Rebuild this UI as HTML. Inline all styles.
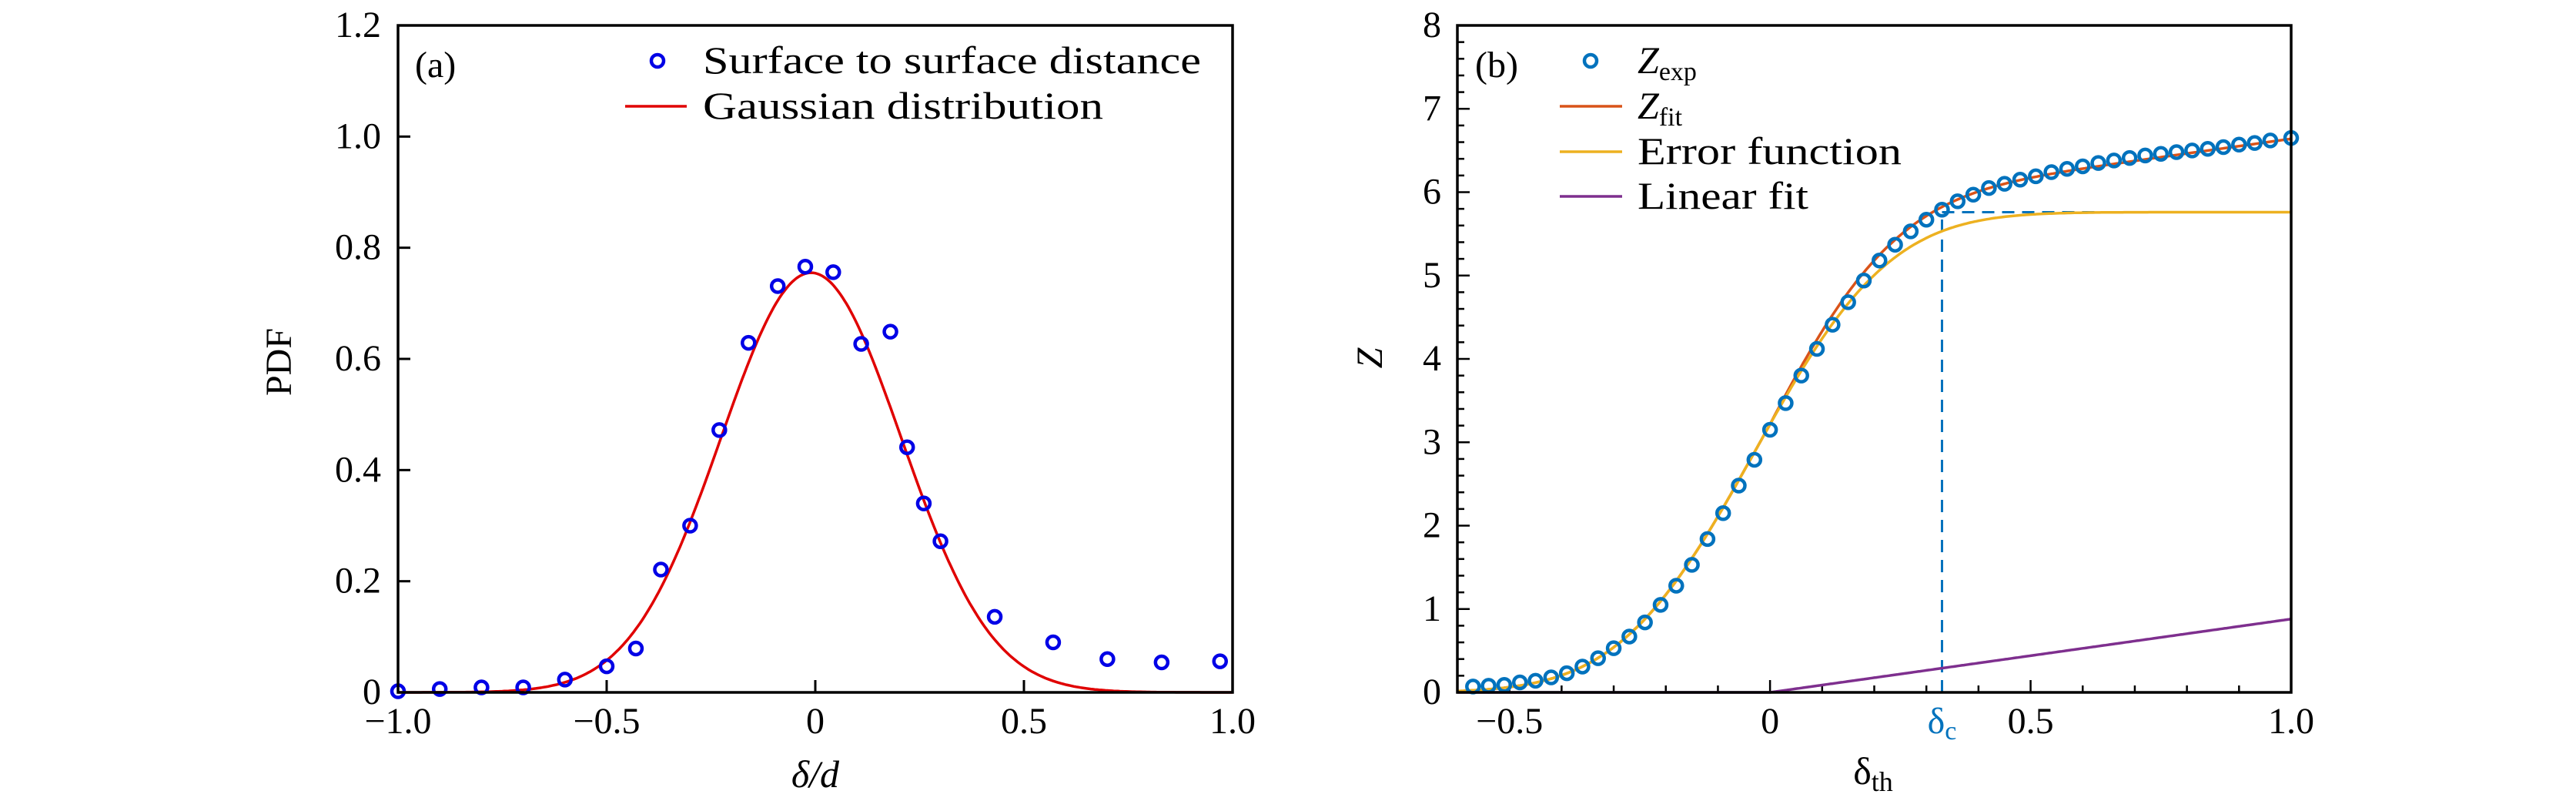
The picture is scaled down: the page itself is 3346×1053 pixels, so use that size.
<!DOCTYPE html>
<html><head><meta charset="utf-8"><style>
html,body{margin:0;padding:0;background:#fff;}
svg{display:block;font-family:"Liberation Serif",serif;}
</style></head><body>
<svg id="fig" width="3346" height="1053" viewBox="0 0 3346 1053" xmlns="http://www.w3.org/2000/svg">
<g id="pa"></g>
<g id="pb"></g>
</svg>
<script>
// ---------- Panel (a) data ----------
const aX = [-1.00,-0.90,-0.80,-0.70,-0.60,-0.50,-0.43,-0.37,-0.30,-0.23,-0.16,-0.09,-0.024,0.043,0.11,0.18,0.22,0.26,0.30,0.43,0.57,0.70,0.83,0.97];
const aY = [0.002,0.006,0.009,0.009,0.023,0.047,0.079,0.221,0.300,0.472,0.629,0.731,0.766,0.756,0.627,0.649,0.441,0.340,0.272,0.136,0.090,0.060,0.054,0.056];
const gaussParams = [0.755, -0.01, 0.216]; // amplitude, mean, sigma
const aXTicks = [-1.0,-0.5,0,0.5,1.0];
const aXTickLabels = ["\u22121.0","\u22120.5","0","0.5","1.0"];
const aYTicks = [0,0.2,0.4,0.6,0.8,1.0,1.2];
const aYTickLabels = ["0","0.2","0.4","0.6","0.8","1.0","1.2"];
// ---------- Panel (b) data ----------
const bX = [-0.57,-0.54,-0.51,-0.48,-0.45,-0.42,-0.39,-0.36,-0.33,-0.30,-0.27,-0.24,-0.21,-0.18,-0.15,-0.12,-0.09,-0.06,-0.03,0.00,0.03,0.06,0.09,0.12,0.15,0.18,0.21,0.24,0.27,0.30,0.33,0.36,0.39,0.42,0.45,0.48,0.51,0.54,0.57,0.60,0.63,0.66,0.69,0.72,0.75,0.78,0.81,0.84,0.87,0.90,0.93,0.96,1.00];
const bZ = [0.07,0.08,0.09,0.12,0.14,0.18,0.23,0.31,0.41,0.53,0.67,0.84,1.05,1.28,1.53,1.84,2.15,2.48,2.79,3.15,3.47,3.80,4.12,4.41,4.68,4.94,5.18,5.37,5.53,5.67,5.79,5.89,5.97,6.05,6.10,6.15,6.19,6.24,6.28,6.31,6.35,6.38,6.41,6.44,6.46,6.48,6.50,6.52,6.54,6.57,6.59,6.62,6.65];
const erfParams = [5.76, -0.03, 0.29]; // plateau, center, width
const linParams = [0.0, 0.88]; // start x, slope
const deltaC = [0.33];
const bXTicks = [-0.5,0,0.5,1.0];
const bXTickLabels = ["\u22120.5","0","0.5","1.0"];
const bYTicks = [0,1,2,3,4,5,6,7,8];
const bYTickLabels = ["0","1","2","3","4","5","6","7","8"];

const NS="http://www.w3.org/2000/svg";
function mk(parent,tag,attrs,text){const e=document.createElementNS(NS,tag);for(const k in attrs)e.setAttribute(k,attrs[k]);if(text!==undefined)e.textContent=text;parent.appendChild(e);return e;}
function erf(x){const s=x<0?-1:1;x=Math.abs(x);const t=1/(1+0.3275911*x);const y=1-(((((1.061405429*t-1.453152027)*t)+1.421413741)*t-0.284496736)*t+0.254829592)*t*Math.exp(-x*x);return s*y;}

// ---------- Panel (a) ----------
(function(){
const g=document.getElementById('pa');
const L=517,R=1601,T=33,B=899;
const sx=v=>L+(v+1)/2*(R-L), sy=v=>B-v/1.2*(B-T);
aXTicks.forEach((t,i)=>{
  const l=mk(g,'line',{x1:sx(t),x2:sx(t),y1:B,y2:B-16,stroke:'#000','stroke-width':3});
  
  
  const tx=mk(g,'text',{x:sx(t),y:952,'font-size':48,'text-anchor':'middle'},aXTickLabels[i]);
  
  
});
aYTicks.forEach((t,i)=>{
  const l=mk(g,'line',{x1:L,x2:L+16,y1:sy(t),y2:sy(t),stroke:'#000','stroke-width':3});
  
  
  const tx=mk(g,'text',{x:495,y:sy(t)+15,'font-size':48,'text-anchor':'end'},aYTickLabels[i]);
  
  
});
let d='';
for(let i=0;i<=400;i++){const x=-1+2*i/400;const y=gaussParams[0]*Math.exp(-Math.pow(x-gaussParams[1],2)/(2*gaussParams[2]*gaussParams[2]));d+=(i?'L':'M')+sx(x).toFixed(1)+' '+sy(y).toFixed(1);}
const gp=mk(g,'path',{d:d,fill:'none',stroke:'#e00000','stroke-width':3.5});


aX.forEach((x,i)=>{
  const c=mk(g,'circle',{cx:sx(x),cy:sy(aY[i]),r:8,fill:'none',stroke:'#0000e6','stroke-width':4.5});
  
  
});
const fr=mk(g,'rect',{x:L,y:T,width:R-L,height:B-T,fill:'none',stroke:'#000','stroke-width':3.5});


})();

// ---------- Panel (b) ----------
(function(){
const g=document.getElementById('pb');
const L=1893,R=2976,T=33,B=899;
const sx=v=>L+(v+0.6)/1.6*(R-L), sy=v=>B-v/8*(B-T);
for(let k=-5;k<=10;k++){const v=k/10;const major=(k%5===0);
  const l=mk(g,'line',{x1:sx(v),x2:sx(v),y1:B,y2:B-(major?16:9),stroke:'#000','stroke-width':2.5});
  
  }
for(let k=0;k<=40;k++){const v=k/5;const major=(k%5===0);
  const l=mk(g,'line',{x1:L,x2:L+(major?16:9),y1:sy(v),y2:sy(v),stroke:'#000','stroke-width':2.5});
  
  }
bXTicks.forEach((t,i)=>{
  const tx=mk(g,'text',{x:sx(t),y:952,'font-size':48,'text-anchor':'middle'},bXTickLabels[i]);
  
  
});
bYTicks.forEach((t,i)=>{
  const tx=mk(g,'text',{x:1872,y:sy(t)+15,'font-size':48,'text-anchor':'end'},bYTickLabels[i]);
  
  
});
const fE=x=>erfParams[0]/2*(1+erf((x-erfParams[1])/erfParams[2]));
const fL=x=>x<linParams[0]?0:(x-linParams[0])*linParams[1];
function curve(f){let d='';for(let i=0;i<=400;i++){const x=-0.6+1.6*i/400;d+=(i?'L':'M')+sx(x).toFixed(1)+' '+sy(f(x)).toFixed(1);}return d;}
const dc=deltaC[0];
const vd=mk(g,'line',{x1:sx(dc),x2:sx(dc),y1:B,y2:sy(erfParams[0]),stroke:'#0072BD','stroke-width':3,'stroke-dasharray':'16 10'});


const hd=mk(g,'line',{x1:sx(dc),x2:R,y1:sy(erfParams[0]),y2:sy(erfParams[0]),stroke:'#0072BD','stroke-width':3,'stroke-dasharray':'16 10'});


const lp=mk(g,'path',{d:curve(fL),fill:'none',stroke:'#7E2F8E','stroke-width':3.5});


const zp=mk(g,'path',{d:curve(x=>fE(x)+fL(x)),fill:'none',stroke:'#D95319','stroke-width':3.5});


const ep=mk(g,'path',{d:curve(fE),fill:'none',stroke:'#EDB120','stroke-width':3.5});


bX.forEach((x,i)=>{
  const c=mk(g,'circle',{cx:sx(x),cy:sy(bZ[i]),r:8,fill:'none',stroke:'#0072BD','stroke-width':4.5});
  
  
});
const dcl=mk(g,'text',{x:sx(dc),y:952,'font-size':48,'text-anchor':'middle',fill:'#0072BD'});


dcl.innerHTML='δ<tspan font-size="34" dy="8">c</tspan>';
const fr=mk(g,'rect',{x:L,y:T,width:R-L,height:B-T,fill:'none',stroke:'#000','stroke-width':3.5});


})();
</script>
<div style="position:absolute;left:0;top:0;width:3346px;height:1053px;pointer-events:none;">
<svg width="3346" height="1053" style="font-family:'Liberation Serif',serif">
  <text x="539" y="100" font-size="48">(a)</text>
  <circle cx="854" cy="79" r="8" fill="none" stroke="#0000e6" stroke-width="4.5"/>
  <text x="913" y="95" font-size="50" textLength="647" lengthAdjust="spacingAndGlyphs">Surface to surface distance</text>
  <line x1="812" x2="892" y1="138" y2="138" stroke="#e00000" stroke-width="3.5"/>
  <text x="913" y="154" font-size="50" textLength="520" lengthAdjust="spacingAndGlyphs">Gaussian distribution</text>
  <text x="0" y="0" font-size="48" text-anchor="middle" transform="translate(378,470) rotate(-90)">PDF</text>
  <text x="1059" y="1022" font-size="50" text-anchor="middle" font-style="italic">δ/d</text>
  <text x="1916" y="100" font-size="48">(b)</text>
  <circle cx="2066" cy="79" r="8" fill="none" stroke="#0072BD" stroke-width="4.5"/>
  <text x="2127" y="95" font-size="50" font-style="italic">Z<tspan font-size="34" dy="9" font-style="normal">exp</tspan></text>
  <line x1="2026" x2="2107" y1="138" y2="138" stroke="#D95319" stroke-width="3.5"/>
  <text x="2127" y="154" font-size="50" font-style="italic">Z<tspan font-size="34" dy="9" font-style="normal">fit</tspan></text>
  <line x1="2026" x2="2107" y1="197" y2="197" stroke="#EDB120" stroke-width="3.5"/>
  <text x="2127" y="213" font-size="50" textLength="343" lengthAdjust="spacingAndGlyphs">Error function</text>
  <line x1="2026" x2="2107" y1="255" y2="255" stroke="#7E2F8E" stroke-width="3.5"/>
  <text x="2127" y="271" font-size="50" textLength="222" lengthAdjust="spacingAndGlyphs">Linear fit</text>
  <text x="0" y="0" font-size="48" text-anchor="middle" font-style="italic" transform="translate(1795,465) rotate(-90)">Z</text>
  <text x="2433" y="1018" font-size="50" text-anchor="middle">δ<tspan font-size="36" dy="9">th</tspan></text>
</svg>
</div>
</body></html>
